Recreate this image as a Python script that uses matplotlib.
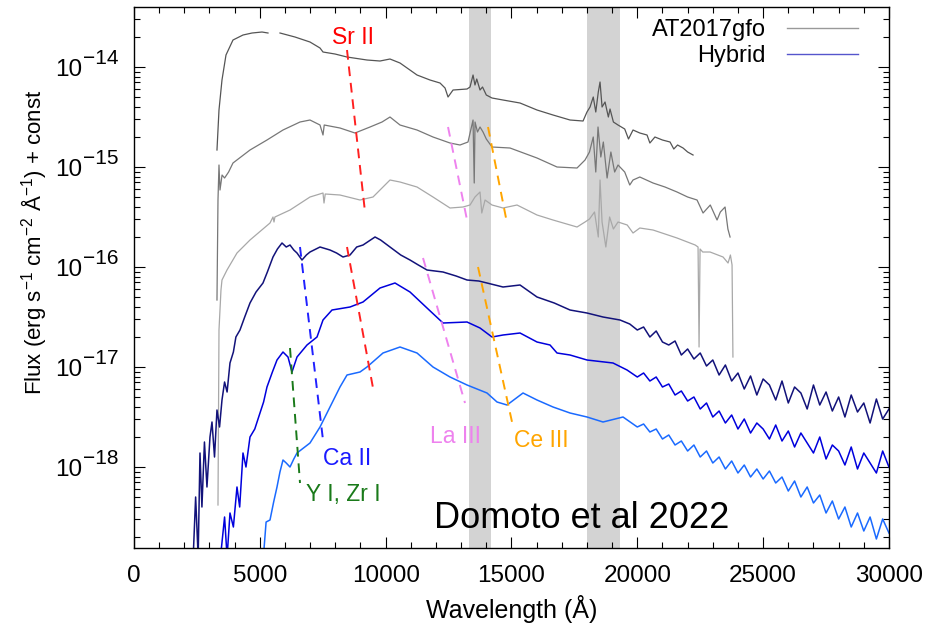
import numpy as np
import matplotlib
matplotlib.use("Agg")
import matplotlib.pyplot as plt
from matplotlib.ticker import NullFormatter

plt.rcParams['font.family'] = ['Liberation Sans', 'DejaVu Sans']
plt.rcParams['mathtext.fontset'] = 'custom'
plt.rcParams['mathtext.rm'] = 'Liberation Sans'
plt.rcParams['mathtext.it'] = 'Liberation Sans:italic'
plt.rcParams['mathtext.bf'] = 'Liberation Sans:bold'

# observed spectra, AT2017gfo (wavelength in A, log10 flux)
obs1_wl = [3298, 3378, 3497, 3656, 3934, 4332, 4690, 5087, 5325, np.nan,
           5802, 6398, 6994, 7392, 7511, 7988, 8465, 9260, 9776, 10173,
           10571, 11247, 11763, 12161, 12360, 12479, 12678, 13234,
           13353, 13473, 13550, 13620, 13750, 13850, 14000, 14227, 14664,
           15340, 16015, 16651, 17327, 17844, 18000, 18122, 18250, 18350,
           18450, 18519, 18600, 18718, 18850, 18916, 19050, 19234, 19500,
           19650, 19830, 20100, 20387, 20500, 20700, 21000, 21301, 21450,
           21600, 21818, 22000, 22215]
obs1_lf = [-14.83, -14.43, -14.13, -13.88, -13.73, -13.68, -13.66, -13.65, -13.66, np.nan,
           -13.66, -13.70, -13.75, -13.81, -13.85, -13.87, -13.90, -13.93, -13.94, -13.92,
           -13.96, -14.08, -14.13, -14.16, -14.21, -14.30, -14.23, -14.22,
           -14.20, -14.08, -14.18, -14.12, -14.23, -14.20, -14.28, -14.31, -14.33,
           -14.36, -14.43, -14.48, -14.53, -14.54, -14.45, -14.40, -14.30, -14.45,
           -14.25, -14.15, -14.40, -14.35, -14.50, -14.42, -14.55, -14.58, -14.62,
           -14.72, -14.63, -14.66, -14.68, -14.76, -14.70, -14.73, -14.75, -14.82,
           -14.78, -14.81, -14.85, -14.88]

obs2_wl = [3298, 3338, 3378, 3418, 3500, 3600, 3760, 3934, 4610, 5285,
           5921, 6597, 6994, 7392, 7511, 7560, 8186, 8782, 9379, 9856,
           10173, 10571, 11247, 11882, 12558, 12955, 13273, 13473, 13520,
           13552, 13650, 13750, 13870, 14000, 14227, 14942, 16015, 16810,
           17605, 17923, 18100, 18250, 18350, 18439, 18550, 18650, 18800,
           18950, 19100, 19234, 19500, 19700, 19830, 20100, 20625, 21100,
           21579, 22000, 22374, 22613, 22900, 23169, 23300, 23487, 23600,
           23686]
obs2_lf = [-16.33, -15.33, -14.98, -15.23, -15.08, -15.11, -15.05, -14.96, -14.83, -14.73,
           -14.63, -14.55, -14.53, -14.58, -14.68, -14.58, -14.61, -14.66, -14.60, -14.55,
           -14.50, -14.58, -14.63, -14.70, -14.76, -14.78, -14.75, -14.53, -15.16,
           -14.55, -14.65, -14.60, -14.65, -14.72, -14.80, -14.81, -14.91, -15.00,
           -15.01, -14.93, -14.85, -14.70, -15.05, -14.60, -14.90, -14.75, -15.11,
           -14.85, -15.05, -14.98, -15.05, -15.18, -15.13, -15.10, -15.16, -15.20,
           -15.25, -15.30, -15.33, -15.46, -15.38, -15.53, -15.45, -15.40, -15.62,
           -15.70]

obs3_wl = [3338, 3378, 3457, 3497, 3696, 4093, 4610, 5405, 5524, 5564,
           5600, 6200, 6994, 7511, 7551, 7600, 8186, 8981, 9498, 10173,
           10571, 11247, 11882, 12558, 13075, 13353, 13550, 13750, 13820,
           13950, 14227, 14664, 15221, 16015, 16651, 17605, 17923, 18100,
           18300, 18450, 18519, 18600, 18750, 18900, 19050, 19234, 19600,
           19830, 20100, 20625, 21579, 22300, 22414, 22454, 22494, 22600,
           22891, 23407, 23606, 23700, 23765, 23800]
obs3_lf = [-18.38, -16.63, -16.23, -16.13, -16.03, -15.86, -15.73, -15.56, -15.50, -15.55,
           -15.50, -15.43, -15.30, -15.26, -15.36, -15.27, -15.28, -15.33, -15.30, -15.13,
           -15.15, -15.20, -15.30, -15.41, -15.40, -15.38, -15.30, -15.25, -15.46,
           -15.33, -15.38, -15.41, -15.38, -15.48, -15.53, -15.60, -15.55, -15.52,
           -15.45, -15.70, -15.13, -15.55, -15.80, -15.50, -15.62, -15.55, -15.58,
           -15.66, -15.61, -15.63, -15.71, -15.78, -15.80, -16.80, -15.82, -15.85,
           -15.85, -15.90, -15.96, -15.88, -15.98, -16.90]

# hybrid model spectra
mod1_wl = [2345, 2450, 2550, 2623, 2700, 2800, 2900, 3020, 3100, 3200,
           3298, 3400, 3497, 3600, 3700, 3815, 3950, 4050, 4212, 4400,
           4610, 4850, 5126, 5300, 5524, 5700, 5882, 6050, 6200, 6350,
           6478, 6676, 6850, 6994, 7392, 7789, 8050, 8306, 8584, 8850,
           9101, 9578, 9800, 10173, 10600, 10968, 11300, 11644, 12280, 12800,
           13234, 13700, 14028, 14664, 15340, 16015, 16700, 17327, 18000, 18638,
           19314, 19700,
           20000, 20250, 20500, 20750, 21000, 21250, 21500, 21750, 22000, 22250,
           22500, 22750, 23000, 23250, 23500, 23750, 24000, 24250, 24500, 24750,
           25000, 25250, 25500, 25750, 26000, 26250, 26500, 26750, 27000, 27250,
           27500, 27750, 28000, 28250, 28500, 28750, 29000, 29250, 29500, 29750,
           30000]
mod1_lf = [-18.95, -18.30, -18.90, -17.86, -18.40, -17.75, -18.20, -17.70, -17.55, -17.90,
           -17.43, -17.60, -17.33, -17.15, -17.25, -16.96, -16.85, -16.70, -16.63, -16.50,
           -16.36, -16.25, -16.16, -16.05, -15.90, -15.82, -15.76, -15.80, -15.78, -15.83,
           -15.86, -15.93, -15.88, -15.85, -15.80, -15.83, -15.86, -15.90, -15.88, -15.80,
           -15.78, -15.70, -15.73, -15.80, -15.88, -15.93, -15.98, -16.03, -16.05, -16.09,
           -16.13, -16.14, -16.16, -16.20, -16.18, -16.30, -16.36, -16.43, -16.46, -16.50,
           -16.53, -16.57,
           -16.63, -16.60, -16.70, -16.64, -16.75, -16.78, -16.74, -16.88, -16.82, -16.92,
           -16.86, -16.99, -16.93, -17.08, -16.98, -17.14, -17.06, -17.22, -17.09, -17.28,
           -17.12, -17.18, -17.33, -17.14, -17.36, -17.20, -17.26, -17.42, -17.18, -17.38,
           -17.25, -17.44, -17.30, -17.50, -17.28, -17.45, -17.36, -17.56, -17.32, -17.52,
           -17.42]

mod2_wl = [3418, 3600, 3700, 3815, 3950, 4093, 4200, 4332, 4450, 4610,
           4800, 5007, 5150, 5285, 5500, 5683, 5921, 6120, 6279, 6478,
           6875, 7273, 7511, 7869, 8584, 9101, 9776, 10372, 10968, 11644,
           12280, 13234, 13750, 14227, 14664, 15340, 16015, 16532, 16810, 17327,
           18002, 19035, 19592,
           20000, 20250, 20500, 20750, 21000, 21250, 21500, 21750, 22000, 22250,
           22500, 22750, 23000, 23250, 23500, 23750, 24000, 24250, 24500, 24750,
           25000, 25250, 25500, 25750, 26000, 26250, 26500, 26750, 27000, 27250,
           27500, 27750, 28000, 28250, 28500, 28750, 29000, 29250, 29500, 29750,
           30000]
mod2_lf = [-18.95, -18.50, -18.90, -18.46, -18.60, -18.20, -18.40, -17.86, -18.00, -17.70,
           -17.62, -17.46, -17.35, -17.20, -17.05, -16.93, -16.85, -16.90, -17.05, -16.90,
           -16.78, -16.70, -16.53, -16.43, -16.40, -16.35, -16.21, -16.16, -16.25, -16.41,
           -16.56, -16.55, -16.61, -16.70, -16.68, -16.66, -16.75, -16.78, -16.86, -16.88,
           -16.93, -16.96, -17.03,
           -17.10, -17.06, -17.14, -17.10, -17.20, -17.17, -17.28, -17.24, -17.34, -17.30,
           -17.42, -17.36, -17.50, -17.44, -17.56, -17.48, -17.62, -17.52, -17.66, -17.56,
           -17.62, -17.72, -17.58, -17.74, -17.64, -17.80, -17.66, -17.76, -17.86, -17.70,
           -17.92, -17.78, -17.84, -17.98, -17.80, -18.02, -17.86, -17.96, -18.06, -17.84,
           -18.00]

mod3_wl = [5126, 5250, 5405, 5550, 5683, 5800, 5921, 6050, 6200, 6350,
           6478, 6994, 7392, 7789, 8186, 8465, 8981, 9259, 9895, 10571,
           11247, 11882, 12558, 13234, 14028, 14426, 14823, 15459, 16015, 16651,
           17327, 18002, 18638, 19433,
           20000, 20250, 20500, 20750, 21000, 21250, 21500, 21750, 22000, 22250,
           22500, 22750, 23000, 23250, 23500, 23750, 24000, 24250, 24500, 24750,
           25000, 25250, 25500, 25750, 26000, 26250, 26500, 26750, 27000, 27250,
           27500, 27750, 28000, 28250, 28500, 28750, 29000, 29250, 29500, 29750,
           30000]
mod3_lf = [-18.95, -18.55, -18.53, -18.35, -18.20, -18.05, -17.93, -17.96, -18.00, -17.92,
           -17.86, -17.76, -17.60, -17.40, -17.20, -17.08, -17.05, -17.00, -16.86, -16.80,
           -16.86, -17.00, -17.10, -17.18, -17.26, -17.35, -17.38, -17.26, -17.33, -17.40,
           -17.46, -17.50, -17.55, -17.50,
           -17.60, -17.57, -17.65, -17.62, -17.72, -17.68, -17.78, -17.74, -17.84, -17.78,
           -17.90, -17.84, -17.96, -17.90, -18.02, -17.94, -18.06, -17.98, -18.10, -18.02,
           -18.12, -18.04, -18.16, -18.10, -18.24, -18.14, -18.30, -18.20, -18.36, -18.28,
           -18.46, -18.34, -18.52, -18.40, -18.60, -18.46, -18.64, -18.50, -18.72, -18.52,
           -18.66]

# telluric bands
bands = [(13300, 14200), (18000, 19300)]

# line identifications: (wl0, wl1, logf0, logf1)
sr_marks = [(8465, 9180, -13.83, -15.45), (8465, 9498, -15.80, -17.21)]
ca_marks = [(6597, 7511, -15.80, -17.73)]
yzr_marks = [(6200, 6597, -16.81, -18.16)]
la_marks = [(12479, 13234, -14.60, -15.53), (11485, 13154, -15.91, -17.36)]
ce_marks = [(14068, 14783, -14.60, -15.51), (13671, 15022, -16.00, -17.55)]

yexp = [-14, -15, -16, -17, -18]

fig = plt.figure(figsize=(9.33, 6.26), dpi=100)
ax = fig.add_axes([0.1436, 0.1246, 0.8092, 0.8642])

for b in bands:
    ax.axvspan(b[0], b[1], color='#d3d3d3', lw=0, zorder=0)

def draw(wl, lf, color, lw):
    ax.plot(wl, 10.0 ** np.array(lf), color=color, lw=lw)

draw(obs1_wl, obs1_lf, '#555555', 0.9)
draw(obs2_wl, obs2_lf, '#777777', 0.9)
draw(obs3_wl, obs3_lf, '#a8a8a8', 0.9)
draw(mod1_wl, mod1_lf, '#12127a', 1.1)
draw(mod2_wl, mod2_lf, '#0000dd', 1.1)
draw(mod3_wl, mod3_lf, '#1a6aff', 1.1)

def marks(lst, color):
    for m in lst:
        ax.plot([m[0], m[1]], [10 ** m[2], 10 ** m[3]], color=color, lw=1.4,
                dashes=(5, 3.5))

marks(sr_marks, '#ff2020')
marks(ca_marks, '#2020ff')
marks(yzr_marks, '#1a7a1a')
marks(la_marks, '#ee82ee')
marks(ce_marks, '#ffa500')

tkw = dict(fontsize=16.5, ha='center', va='center')
ax.text(8703, 10 ** -13.70, 'Sr II', color='#ff0000', **tkw)
ax.text(8465, 10 ** -17.91, 'Ca II', color='#1a1aff', **tkw)
ax.text(8306, 10 ** -18.27, 'Y I, Zr I', color='#1a7a1a', **tkw)
ax.text(12757, 10 ** -17.69, 'La III', color='#ee82ee', **tkw)
ax.text(16174, 10 ** -17.73, 'Ce III', color='#ffa500', **tkw)
ax.text(0.593, 0.055, 'Domoto et al 2022', transform=ax.transAxes,
        fontsize=26, ha='center', va='center')

# legend entries
ax.plot([], [], color='#999999', lw=1, label='AT2017gfo')
ax.plot([], [], color='#5555cc', lw=1, label='Hybrid')
h, l = ax.get_legend_handles_labels()
ax.legend(h, l, loc='upper right', bbox_to_anchor=(0.959, 0.977),
          frameon=False, markerfirst=False,
          fontsize=17, handlelength=3.0, handletextpad=0.9, labelspacing=0.15,
          borderaxespad=0, borderpad=0)

ax.set_yscale('log')
ax.set_xlim(0, 30000)
ax.set_ylim(10 ** -18.81, 10 ** -13.40)
ax.set_xticks([0, 5000, 10000, 15000, 20000, 25000, 30000])
ax.set_xticks(np.arange(0, 30001, 1000), minor=True)
ax.yaxis.set_major_formatter(NullFormatter())
ax.yaxis.set_minor_formatter(NullFormatter())
ax.tick_params(which='both', direction='in', top=True, right=True,
               labelsize=17.5)
ax.tick_params(axis='x', pad=12)
ax.tick_params(which='major', length=8, width=0.8)
ax.tick_params(which='minor', length=4, width=0.8)
for s in ax.spines.values():
    s.set_linewidth(1.0)

# y tick labels drawn as "10" plus a large exponent
for e in yexp:
    ax.annotate('10', xy=(-0.0689, 10.0 ** e), xycoords=('axes fraction', 'data'),
                xytext=(0, -2), textcoords='offset points',
                ha='right', va='center', fontsize=17.5)
    ax.annotate('\u2212' + str(-e), xy=(-0.0689, 10.0 ** e),
                xycoords=('axes fraction', 'data'),
                xytext=(0.5, 6), textcoords='offset points',
                ha='left', va='center', fontsize=15)

ax.set_xlabel('Wavelength (Å)', fontsize=18, labelpad=6)
ax.set_ylabel(r'Flux (erg s$^{-1}$ cm$^{-2}$ Å$^{-1}$) + const', fontsize=16)
ax.yaxis.set_label_coords(-0.113, 0.566)

fig.savefig('out.png', dpi=100)
